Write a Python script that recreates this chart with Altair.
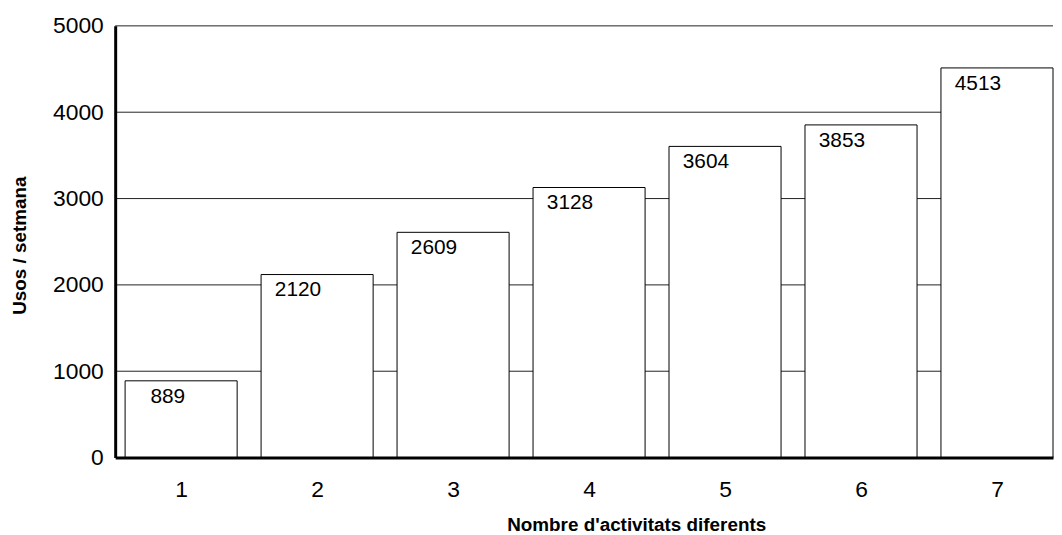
import altair as alt
import pandas as pd

categories = [1, 2, 3, 4, 5, 6, 7]
values = [889, 2120, 2609, 3128, 3604, 3853, 4513]
y_ticks = [0, 1000, 2000, 3000, 4000, 5000]
grid_lines = [1000, 2000, 3000, 4000, 5000]

df = pd.DataFrame({"cat": categories, "value": values})
grid_df = pd.DataFrame({"g": grid_lines})

FONT = "Liberation Sans"

xscale = alt.Scale(domain=[0.515, 7.412], nice=False, zero=False)
yscale = alt.Scale(domain=[0, 5000], nice=False)

x_axis = alt.Axis(
    values=categories,
    format="d",
    title="Nombre d'activitats diferents",
    grid=False,
    ticks=False,
    tickSize=0,
    labelFontSize=23,
    labelFont=FONT,
    labelColor="black",
    labelPadding=21,
    labelBaseline="top",
    domainColor="black",
    domainWidth=3,
    titleFont=FONT,
    titleFontSize=19,
    titleFontWeight="bold",
    titleColor="black",
    titleX=525,
    titleY=67,
    titleBaseline="middle",
    titleAlign="center",
    zindex=2,
)

y_axis = alt.Axis(
    values=y_ticks,
    format="d",
    title="Usos / setmana",
    grid=False,
    ticks=False,
    tickSize=0,
    labelFontSize=23,
    labelFont=FONT,
    labelColor="black",
    labelPadding=12,
    domainColor="black",
    domainWidth=3,
    titleFont=FONT,
    titleFontSize=19,
    titleFontWeight="bold",
    titleColor="black",
    titleAngle=-90,
    titleX=-96,
    titleY=221,
    titleBaseline="middle",
    titleAlign="center",
    zindex=2,
)

base = alt.Chart(df).transform_calculate(
    x1="datum.cat - 0.412", x2="datum.cat + 0.412", xl="datum.cat + 0.03"
)

grid = alt.Chart(grid_df).mark_rule(color="#222222", strokeWidth=1).encode(
    y=alt.Y("g:Q", scale=yscale, axis=y_axis),
)

bars = base.mark_bar(fill="white", stroke="black", strokeWidth=1).encode(
    x=alt.X("x1:Q", scale=xscale, axis=x_axis),
    x2="x2:Q",
    y=alt.Y("value:Q", scale=yscale, axis=y_axis),
    y2=alt.datum(0),
)

labels = base.mark_text(
    align="right", baseline="alphabetic", dy=22, fontSize=21, font=FONT, color="black"
).encode(
    x=alt.X("xl:Q", scale=xscale, axis=x_axis),
    y=alt.Y("value:Q", scale=yscale, axis=y_axis),
    text=alt.Text("value:Q", format="d"),
)

chart = (
    alt.layer(grid, bars, labels)
    .properties(
        width=945,
        height=435,
        autosize=alt.AutoSizeParams(type="none"),
        padding={"left": 108, "top": 16, "right": 1, "bottom": 75},
        background="white",
    )
    .configure_view(stroke=None)
)

chart.save("out.html", embed_options={"renderer": "svg", "actions": False})
